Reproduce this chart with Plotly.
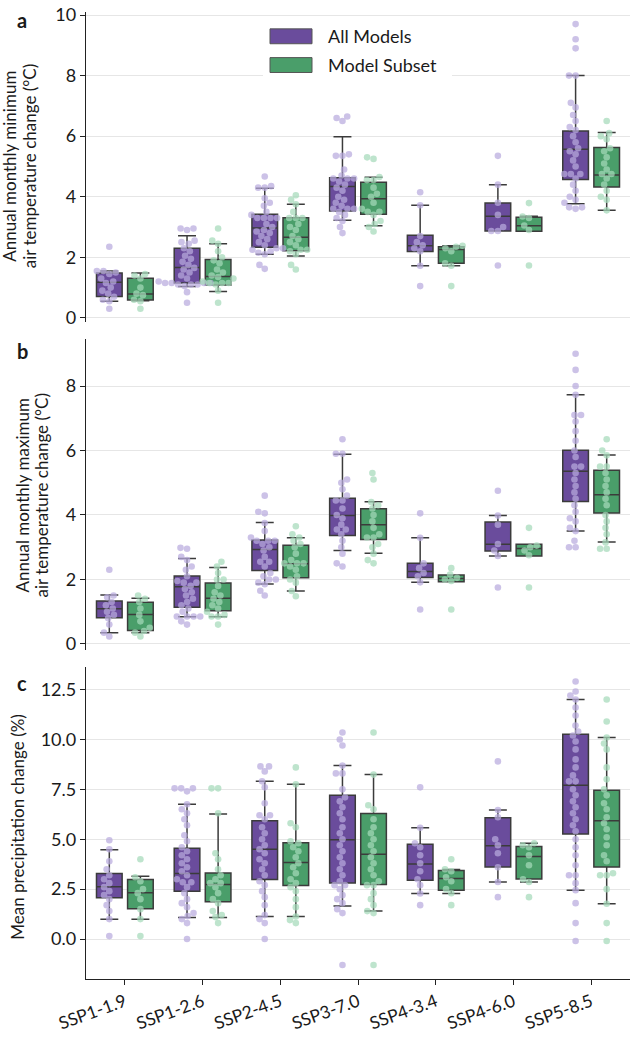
import math
import plotly.graph_objects as go

# ---------------- data ----------------
SCENARIOS = ["SSP1-1.9", "SSP1-2.6", "SSP2-4.5", "SSP3-7.0", "SSP4-3.4", "SSP4-6.0", "SSP5-8.5"]
SERIES = ["All Models", "Model Subset"]

# Panel a: annual monthly minimum air temperature change (°C)
TMIN_ALL_Q1 = [0.71, 1.15, 2.33, 3.53, 2.19, 2.87, 4.57]
TMIN_ALL_MED = [1.18, 1.66, 2.97, 4.34, 2.38, 3.36, 5.57]
TMIN_ALL_Q3 = [1.48, 2.30, 3.42, 4.63, 2.73, 3.79, 6.17]
TMIN_ALL_LO = [0.55, 1.04, 2.10, 3.22, 1.72, 2.87, 3.77]
TMIN_ALL_HI = [1.55, 2.71, 4.28, 5.98, 3.72, 4.40, 8.00]
TMIN_SUB_Q1 = [0.59, 1.09, 2.22, 3.42, 1.80, 2.86, 4.32]
TMIN_SUB_MED = [0.79, 1.37, 2.66, 3.93, 2.26, 3.04, 4.72]
TMIN_SUB_Q3 = [1.31, 1.93, 3.31, 4.48, 2.35, 3.32, 5.63]
TMIN_SUB_LO = [0.57, 0.87, 2.04, 3.04, 1.72, 2.86, 3.55]
TMIN_SUB_HI = [1.48, 2.45, 3.75, 4.64, 2.38, 3.36, 6.12]
TMIN_ALL_PTS = [
    [2.35, 1.55, 1.55, 1.5, 1.45, 1.3, 1.2, 1.15, 1.0, 0.9, 0.8, 0.7, 0.6, 0.55, 0.3],
    [2.95, 2.95, 2.9, 2.55, 2.5, 2.45, 2.3, 2.2, 2.05, 1.95, 1.85, 1.75, 1.65, 1.6, 1.5, 1.4, 1.3,
     1.2, 1.15, 1.15, 1.15, 1.15, 1.1, 1.1, 1.1, 1.05, 0.85, 0.5],
    [4.67, 4.35, 4.3, 4.3, 3.95, 3.8, 3.7, 3.5, 3.4, 3.3, 3.3, 3.3, 3.3, 3.1, 3.0, 2.9, 2.85, 2.8,
     2.7, 2.6, 2.5, 2.4, 2.3, 2.3, 2.25, 2.2, 2.15, 2.1, 1.75, 1.62],
    [6.65, 6.6, 6.5, 5.4, 5.35, 5.35, 4.9, 4.7, 4.6, 4.6, 4.6, 4.5, 4.4, 4.3, 4.2, 4.0, 3.9, 3.8,
     3.7, 3.6, 3.6, 3.6, 3.5, 3.4, 3.3, 3.2, 3.0, 2.8],
    [4.15, 3.72, 2.7, 2.5, 2.4, 2.3, 2.2, 1.72, 1.05],
    [5.35, 4.4, 3.8, 3.4, 3.0, 2.87, 2.87, 1.73],
    [9.7, 9.2, 8.9, 8.0, 8.0, 7.1, 6.95, 6.7, 6.5, 6.3, 6.2, 6.0, 5.8, 5.6, 5.5, 5.4, 5.2, 5.0,
     4.75, 4.75, 4.75, 4.6, 4.4, 4.2, 4.0, 3.9, 3.8, 3.65, 3.65, 3.6],
]
TMIN_SUB_PTS = [
    [1.45, 1.4, 1.3, 1.0, 0.8, 0.75, 0.6, 0.55, 0.3],
    [2.95, 2.55, 2.45, 2.2, 2.0, 1.9, 1.8, 1.6, 1.5, 1.4, 1.35, 1.3, 1.2, 1.15, 1.15, 1.15, 1.1, 0.9, 0.5],
    [4.05, 3.9, 3.75, 3.5, 3.3, 3.3, 3.3, 3.1, 3.0, 2.9, 2.7, 2.6, 2.5, 2.4, 2.25, 2.25, 2.2, 2.1, 1.75, 1.6],
    [5.3, 5.25, 4.65, 4.55, 4.55, 4.3, 4.1, 4.0, 3.8, 3.6, 3.5, 3.5, 3.4, 3.2, 3.1, 3.0, 2.85],
    [2.38, 2.35, 2.3, 2.2, 1.8, 1.72, 1.05],
    [3.79, 3.35, 3.3, 3.05, 2.9, 1.73],
    [6.5, 6.1, 6.0, 5.9, 5.6, 5.5, 5.3, 5.1, 4.9, 4.75, 4.75, 4.6, 4.4, 4.2, 4.0, 3.9, 3.55],
]

# Panel b: annual monthly maximum air temperature change (°C)
TMAX_ALL_Q1 = [0.81, 1.14, 2.28, 3.36, 2.06, 2.88, 4.42]
TMAX_ALL_MED = [1.09, 1.77, 2.93, 3.98, 2.25, 3.09, 5.36]
TMAX_ALL_Q3 = [1.33, 2.11, 3.22, 4.52, 2.50, 3.78, 6.01]
TMAX_ALL_LO = [0.35, 0.84, 1.86, 2.90, 1.91, 2.73, 3.50]
TMAX_ALL_HI = [1.52, 2.65, 3.77, 5.88, 3.29, 3.98, 7.73]
TMAX_SUB_Q1 = [0.42, 1.03, 2.05, 3.24, 1.93, 2.73, 4.06]
TMAX_SUB_MED = [0.91, 1.42, 2.49, 3.70, 2.03, 2.96, 4.63]
TMAX_SUB_Q3 = [1.29, 1.89, 3.06, 4.19, 2.14, 3.09, 5.39]
TMAX_SUB_LO = [0.35, 0.84, 1.64, 2.81, 1.93, 2.73, 3.16]
TMAX_SUB_HI = [1.42, 2.37, 3.29, 4.41, 2.14, 3.09, 5.86]
TMAX_ALL_PTS = [
    [2.3, 1.5, 1.45, 1.3, 1.2, 1.1, 1.0, 0.9, 0.8, 0.6, 0.35, 0.23],
    [2.98, 2.95, 2.7, 2.6, 2.4, 2.3, 2.1, 1.95, 1.9, 1.9, 1.8, 1.7, 1.6, 1.5, 1.4, 1.3, 1.2, 1.1,
     1.0, 0.85, 0.85, 0.85, 0.85, 0.7, 0.6],
    [4.6, 4.1, 4.05, 3.75, 3.5, 3.3, 3.2, 3.2, 3.2, 3.1, 3.0, 2.9, 2.7, 2.55, 2.55, 2.4, 2.2, 2.1,
     2.0, 2.0, 1.9, 1.85, 1.65, 1.5],
    [6.35, 5.9, 5.9, 5.1, 5.0, 4.8, 4.6, 4.45, 4.45, 4.2, 4.0, 3.9, 3.7, 3.55, 3.55, 3.4, 3.2, 3.0,
     2.8, 2.5, 2.4],
    [4.05, 3.29, 2.5, 2.35, 2.2, 2.1, 1.91, 1.07],
    [4.75, 3.98, 3.7, 3.1, 2.9, 2.73, 1.75],
    [9.0, 8.5, 8.0, 7.73, 7.1, 7.1, 6.9, 6.6, 6.3, 6.0, 5.8, 5.5, 5.5, 5.3, 5.1, 4.9, 4.7, 4.5,
     4.3, 4.1, 3.9, 3.8, 3.6, 3.5, 3.2, 3.0, 3.0],
]
TMAX_SUB_PTS = [
    [1.5, 1.4, 1.3, 1.1, 0.9, 0.7, 0.5, 0.4, 0.35, 0.23],
    [2.55, 2.4, 2.2, 2.0, 2.0, 1.8, 1.6, 1.5, 1.4, 1.3, 1.2, 1.1, 1.0, 0.9, 0.85, 0.85, 0.6],
    [3.65, 3.4, 3.3, 3.2, 3.1, 3.0, 2.8, 2.6, 2.5, 2.5, 2.5, 2.4, 2.3, 2.1, 2.0, 1.9, 1.64, 1.48],
    [5.3, 5.1, 4.4, 4.3, 4.2, 4.0, 3.8, 3.6, 3.4, 3.3, 3.3, 3.1, 3.0, 2.8, 2.6, 2.5],
    [2.35, 2.15, 2.05, 2.0, 1.95, 1.07],
    [3.6, 3.05, 3.0, 2.9, 2.75, 1.75],
    [6.35, 6.0, 5.85, 5.5, 5.5, 5.3, 5.1, 4.9, 4.7, 4.5, 4.3, 4.0, 3.8, 3.6, 3.4, 3.15, 2.95, 2.95],
]

# Panel c: mean precipitation change (%)
PR_ALL_Q1 = [2.07, 2.40, 2.98, 2.81, 2.95, 3.61, 5.26]
PR_ALL_MED = [2.62, 3.28, 4.50, 4.97, 3.76, 4.67, 7.70]
PR_ALL_Q3 = [3.28, 4.55, 5.93, 7.20, 4.75, 6.08, 10.26]
PR_ALL_LO = [0.99, 1.08, 1.13, 1.66, 2.28, 2.86, 2.45]
PR_ALL_HI = [4.47, 6.75, 7.90, 8.69, 5.58, 6.46, 12.0]
PR_SUB_Q1 = [1.52, 1.87, 2.68, 2.73, 2.45, 3.01, 3.61]
PR_SUB_MED = [2.32, 2.73, 3.84, 4.25, 3.03, 4.14, 5.93]
PR_SUB_Q3 = [2.98, 3.31, 4.83, 6.29, 3.44, 4.64, 7.45]
PR_SUB_LO = [0.99, 1.08, 1.13, 1.41, 2.28, 2.86, 1.77]
PR_SUB_HI = [3.15, 6.26, 7.75, 8.24, 3.48, 4.80, 10.10]
PR_ALL_PTS = [
    [4.95, 4.5, 3.9, 3.5, 3.2, 3.0, 2.8, 2.6, 2.4, 2.2, 2.0, 1.7, 1.4, 1.0, 0.15],
    [7.55, 7.55, 7.55, 7.4, 6.75, 6.5, 6.3, 6.0, 5.7, 5.2, 4.9, 4.6, 4.4, 4.2, 4.0, 3.8, 3.6, 3.4,
     3.2, 3.0, 2.85, 2.85, 2.6, 2.3, 2.0, 1.8, 1.6, 1.3, 1.15, 1.0, 0.8, 0.0],
    [8.65, 8.65, 8.4, 7.9, 7.6, 6.8, 6.2, 6.2, 6.0, 5.6, 5.3, 5.0, 4.7, 4.5, 4.3, 4.0, 3.8, 3.5,
     3.2, 2.9, 2.7, 2.4, 2.1, 1.7, 1.2, 1.0, 0.8, 0.0],
    [10.35, 10.0, 9.7, 8.69, 8.3, 8.3, 7.5, 7.1, 6.9, 6.6, 6.3, 6.0, 5.6, 5.3, 5.0, 4.7, 4.4, 4.1,
     3.8, 3.5, 3.2, 2.9, 2.7, 2.7, 2.5, 2.2, 2.0, 1.8, 1.5, 1.3, -1.3],
    [7.6, 5.58, 4.8, 4.6, 4.2, 3.8, 3.4, 3.0, 2.7, 2.28, 1.7],
    [8.9, 6.46, 6.1, 5.0, 4.7, 4.3, 3.6, 2.86, 2.1],
    [12.9, 12.4, 12.2, 12.0, 11.6, 11.2, 10.7, 10.4, 10.2, 9.9, 9.5, 9.0, 8.6, 8.2, 7.9, 7.9, 7.5,
     7.2, 6.9, 6.6, 6.3, 6.0, 5.7, 5.4, 5.0, 4.6, 4.2, 3.7, 3.2, 3.2, 2.8, 2.45, 1.8, 0.8, -0.1],
]
PR_SUB_PTS = [
    [4.0, 3.1, 2.9, 2.5, 2.3, 2.0, 1.5, 1.0, 0.15],
    [7.55, 7.55, 6.3, 4.3, 4.0, 3.5, 3.2, 3.0, 2.8, 2.8, 2.6, 2.3, 2.0, 1.8, 1.4, 1.2, 1.1, 0.8],
    [8.6, 7.75, 5.8, 5.6, 4.9, 4.8, 4.6, 4.4, 4.1, 3.8, 3.6, 3.3, 3.0, 2.8, 2.6, 2.4, 2.0, 1.6,
     1.13, 0.95, 0.8],
    [10.35, 8.24, 6.7, 6.5, 6.0, 5.6, 5.3, 5.0, 4.7, 4.4, 4.1, 3.8, 3.5, 3.2, 2.9, 2.7, 2.7, 2.3,
     2.0, 1.7, 1.4, 1.3, -1.3],
    [4.0, 3.5, 3.4, 3.1, 2.9, 2.5, 2.3, 1.7],
    [4.8, 4.7, 4.6, 4.2, 3.7, 3.0, 2.86, 2.1],
    [12.0, 10.9, 10.1, 9.8, 9.5, 8.6, 8.0, 7.5, 7.2, 6.8, 6.5, 6.1, 5.8, 5.5, 5.1, 4.7, 4.2, 3.9,
     3.3, 3.2, 3.2, 2.5, 1.77, 0.8, -0.1],
]

Y_TITLE_LINES = [["Annual monthly minimum", "air temperature change (°C)"],
                 ["Annual monthly maximum", "air temperature change (°C)"],
                 ["Mean precipitation change (%)"]]
PANEL_LABELS = ["a", "b", "c"]

# ---------------- styling / layout ----------------
W, H = 633, 1037
PL, PR, PT, PB = 86, 630, 5, 980
FONT = "Lato"
BOX_FILL = ["#6a4c9c", "#4a9e6a"]
DOT_COL = ["rgba(185,170,222,0.72)", "rgba(165,218,186,0.72)"]
EDGE = "#3b3b3b"
OFFSETS = [-0.2, 0.2]
BOX_W = 0.33
DOT_D = 6.6


def px_x(p):
    return (p - PL) / (PR - PL)


def px_y(p):
    return (PB - p) / (PB - PT)


panels = [
    dict(top=5, bot=318, rng=[-0.15, 10.1], tickvals=[0, 2, 4, 6, 8, 10], fmt="d",
         stats=[(TMIN_ALL_Q1, TMIN_ALL_MED, TMIN_ALL_Q3, TMIN_ALL_LO, TMIN_ALL_HI),
                (TMIN_SUB_Q1, TMIN_SUB_MED, TMIN_SUB_Q3, TMIN_SUB_LO, TMIN_SUB_HI)],
         pts=[TMIN_ALL_PTS, TMIN_SUB_PTS], title_x=[10, 29.5], title_y=161, lab_top=-2),
    dict(top=335, bot=648, rng=[-0.18, 9.45], tickvals=[0, 2, 4, 6, 8], fmt="d",
         stats=[(TMAX_ALL_Q1, TMAX_ALL_MED, TMAX_ALL_Q3, TMAX_ALL_LO, TMAX_ALL_HI),
                (TMAX_SUB_Q1, TMAX_SUB_MED, TMAX_SUB_Q3, TMAX_SUB_LO, TMAX_SUB_HI)],
         pts=[TMAX_ALL_PTS, TMAX_SUB_PTS], title_x=[22.5, 41.5], title_y=493, lab_top=334),
    dict(top=665, bot=980, rng=[-2.0, 13.65], tickvals=[0, 2.5, 5, 7.5, 10, 12.5], fmt=".1f",
         stats=[(PR_ALL_Q1, PR_ALL_MED, PR_ALL_Q3, PR_ALL_LO, PR_ALL_HI),
                (PR_SUB_Q1, PR_SUB_MED, PR_SUB_Q3, PR_SUB_LO, PR_SUB_HI)],
         pts=[PR_ALL_PTS, PR_SUB_PTS], title_x=[17.5], title_y=827, lab_top=668),
]

X_PPU = (PR - PL) / 7.0  # px per category unit


def swarm(vals, ppu, d):
    ys = [v * ppu for v in vals]
    order = sorted(range(len(vals)), key=lambda i: ys[i])
    placed = []
    xs = [0.0] * len(vals)
    for i in order:
        y = ys[i]
        cands = [0.0]
        for (qx, qy) in placed:
            dy = abs(y - qy)
            if dy < d:
                dx = math.sqrt(d * d - dy * dy)
                cands += [qx + dx, qx - dx]
        cands.sort(key=lambda c: (abs(c), c))
        chosen = cands[-1]
        for c in cands:
            if all((c - qx) ** 2 + (y - qy) ** 2 >= d * d - 1e-6 for qx, qy in placed):
                chosen = c
                break
        xs[i] = chosen
        placed.append((chosen, y))
    return xs


fig = go.Figure()
layout = dict(
    width=W, height=H, margin=dict(l=PL, r=W - PR, t=PT, b=H - PB),
    paper_bgcolor="white", plot_bgcolor="white", showlegend=False,
    font=dict(family=FONT, size=17, color="#1a1a1a"),
)
annotations = []
shapes = []

for k, p in enumerate(panels):
    sfx = "" if k == 0 else str(k + 1)
    xa, ya = "x" + sfx, "y" + sfx
    y_ppu = (p["bot"] - p["top"]) / (p["rng"][1] - p["rng"][0])
    for s in range(2):
        q1, med, q3, lo, hi = p["stats"][s]
        pos = [i + OFFSETS[s] for i in range(len(SCENARIOS))]
        fig.add_trace(go.Box(
            x=pos, q1=q1, median=med, q3=q3, lowerfence=lo, upperfence=hi,
            width=BOX_W, whiskerwidth=0.7, fillcolor=BOX_FILL[s],
            line=dict(color=EDGE, width=1.5), boxpoints=False,
            name=SERIES[s], xaxis=xa, yaxis=ya, hoverinfo="skip",
        ))
    for s in range(2):
        xs_all, ys_all = [], []
        for i, vals in enumerate(p["pts"][s]):
            offs = swarm(vals, y_ppu, DOT_D)
            xs_all += [i + OFFSETS[s] + o / X_PPU for o in offs]
            ys_all += vals
        fig.add_trace(go.Scatter(
            x=xs_all, y=ys_all, mode="markers",
            marker=dict(size=DOT_D, color=DOT_COL[s], line=dict(width=0)),
            xaxis=xa, yaxis=ya, hoverinfo="skip", name=SERIES[s],
        ))
    dom = [px_y(p["bot"]), px_y(p["top"])]
    last = k == 2
    layout["xaxis" + sfx] = dict(
        domain=[0, 1], anchor=ya, range=[-0.5, 6.5],
        showgrid=False, zeroline=False,
        showline=last, linecolor="#222", linewidth=1.3,
        ticks="outside" if last else "", ticklen=5, tickwidth=1.3, tickcolor="#222",
        tickmode="array", tickvals=list(range(len(SCENARIOS))), ticktext=SCENARIOS,
        showticklabels=last, tickangle=-20, tickfont=dict(size=17.5, family=FONT),
        **({} if k == 0 else dict(matches="x"))
    )
    layout["yaxis" + sfx] = dict(
        domain=dom, anchor=xa, range=p["rng"],
        showgrid=True, gridcolor="#e6e6e6", gridwidth=1, zeroline=False,
        showline=True, linecolor="#222", linewidth=1.3,
        ticks="outside", ticklen=5, tickwidth=1.3, tickcolor="#222",
        tickmode="array", tickvals=p["tickvals"], ticklabeloverflow="allow",
        ticktext=[format(v, p["fmt"]) if p["fmt"] != "d" else str(int(v)) for v in p["tickvals"]],
        tickfont=dict(size=18, family=FONT),
    )
    for line_txt, tx in zip(Y_TITLE_LINES[k], p["title_x"]):
        annotations.append(dict(
            xref="paper", yref="paper", x=px_x(tx), y=px_y(p["title_y"]),
            text=line_txt, showarrow=False, textangle=-90,
            xanchor="center", yanchor="middle", font=dict(size=17, family=FONT),
        ))
    annotations.append(dict(
        xref="paper", yref="paper", x=px_x(22), y=px_y(max(p["lab_top"], 0)),
        text="<b>%s</b>" % PANEL_LABELS[k], showarrow=False, borderpad=0,
        xanchor="center", yanchor="top", font=dict(size=20, family=FONT),
    ))

# legend (drawn in panel a)
shapes.append(dict(type="rect", xref="paper", yref="paper", layer="above",
                   x0=px_x(263), x1=px_x(452), y0=px_y(72), y1=px_y(13),
                   fillcolor="white", line=dict(width=0)))
for s, yc in enumerate([29.5, 58.5]):
    shapes.append(dict(type="rect", xref="paper", yref="paper", layer="above",
                       x0=px_x(270), x1=px_x(312), y0=px_y(yc + 7.5), y1=px_y(yc - 7.5),
                       fillcolor=BOX_FILL[s], line=dict(color="#555", width=1)))
    annotations.append(dict(
        xref="paper", yref="paper", x=px_x(326), y=px_y(yc),
        text=SERIES[s], showarrow=False, xanchor="left", yanchor="middle",
        font=dict(size=18, family=FONT),
    ))

layout["annotations"] = annotations
layout["shapes"] = shapes
fig.update_layout(**layout)
fig.write_html("out.html", config={"displayModeBar": False},
               post_script="document.body.style.margin='0px';document.body.style.padding='0px';")
